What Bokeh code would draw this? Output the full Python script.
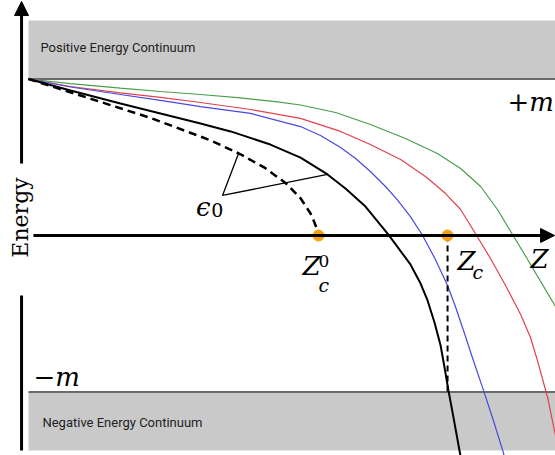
import numpy as np
from bokeh.plotting import figure
from bokeh.models import Range1d, Arrow, NormalHead
from bokeh.core.properties import value
from bokeh.embed import file_html
from bokeh.resources import INLINE

# Energy levels (units of m) versus nuclear charge Z (units of Z_c^0)
z_crit0 = 1.0      # critical charge, point nucleus
z_crit = 1.445     # critical charge, finite nucleus
continuum_edge = 1.0
continuum_depth = 1.374

# ground state of the point nucleus (dashed)
z_eps0 = [0.000, 0.214, 0.421, 0.628, 0.731, 0.817, 0.886, 0.938, 0.972, 0.983, 0.993, 0.997, 1.000]
e_eps0 = [1.000, 0.874, 0.751, 0.608, 0.519, 0.430, 0.336, 0.238, 0.142, 0.096, 0.050, 0.026, 0.000]

# ground state of the extended nucleus (black)
z_black = [0.000, 0.145, 0.317, 0.455, 0.593, 0.697, 0.834, 0.938, 1.031, 1.093, 1.162, 1.241,
           1.317, 1.352, 1.376, 1.400, 1.421, 1.434, 1.448, 1.466, 1.483, 1.490]
e_black = [1.000, 0.927, 0.843, 0.780, 0.716, 0.665, 0.581, 0.498, 0.390, 0.300, 0.185, 0.006,
           -0.185, -0.307, -0.415, -0.556, -0.703, -0.837, -0.990, -1.169, -1.342, -1.412]

# further levels
z_blue = [0.000, 0.145, 0.317, 0.455, 0.593, 0.766, 0.938, 1.007, 1.076, 1.128, 1.179, 1.231,
          1.272, 1.317, 1.359, 1.403, 1.445, 1.472, 1.500, 1.534, 1.569, 1.603, 1.634, 1.641]
e_blue = [1.000, 0.949, 0.901, 0.863, 0.824, 0.780, 0.696, 0.639, 0.562, 0.492, 0.409, 0.313,
          0.227, 0.121, 0.000, -0.153, -0.319, -0.454, -0.607, -0.799, -0.990, -1.182, -1.367, -1.412]

z_red = [0.000, 0.145, 0.317, 0.455, 0.593, 0.766, 0.938, 1.076, 1.179, 1.283, 1.369, 1.438,
         1.490, 1.541, 1.593, 1.645, 1.697, 1.731, 1.755, 1.790, 1.817, 1.838]
e_red = [1.000, 0.952, 0.911, 0.882, 0.850, 0.805, 0.748, 0.665, 0.581, 0.486, 0.377, 0.268,
         0.166, 0.013, -0.147, -0.319, -0.505, -0.652, -0.799, -1.035, -1.278, -1.470]

z_green = [0.000, 0.145, 0.317, 0.455, 0.593, 0.731, 0.852, 0.938, 1.059, 1.179, 1.300, 1.410,
           1.490, 1.559, 1.617, 1.669, 1.721, 1.817, 1.886]
e_green = [1.000, 0.971, 0.942, 0.920, 0.901, 0.879, 0.856, 0.834, 0.786, 0.709, 0.620, 0.524,
           0.428, 0.313, 0.166, 0.006, -0.153, -0.454, -0.671]

# pointer from the epsilon_0 label to both ground-state curves
eps_label = (0.669, 0.256)
eps_targets = [(0.724, 0.522), (1.031, 0.390)]

W, H = 555, 455
p = figure(width=W, height=H, output_backend="svg", toolbar_location=None,
           x_range=Range1d(-0.0966, 1.8172), y_range=Range1d(-1.4058, 1.5016),
           x_axis_location=None, y_axis_location=None, min_border=0)
p.grid.visible = False
p.outline_line_color = None
p.background_fill_color = "white"
p.border_fill_color = "white"

band = "#c9c9c9"
edge = "#6a6a6a"
# continua
p.quad(left=0.0, right=1.9, bottom=continuum_edge, top=continuum_depth,
       fill_color=band, line_color=None)
p.quad(left=0.0, right=1.9, bottom=-continuum_depth, top=-continuum_edge,
       fill_color=band, line_color=None)
p.line([0.0, 1.9], [continuum_edge, continuum_edge], line_color=edge, line_width=2)
p.line([0.0, 1.9], [-continuum_edge, -continuum_edge], line_color=edge, line_width=2)

sans = value("Roboto")
p.text(x=[0.041], y=[1.201], text=["Positive Energy Continuum"], text_font=sans,
       text_font_size="13px", text_color="#222222", text_baseline="middle", text_align="left")
p.text(x=[0.048], y=[-1.194], text=["Negative Energy Continuum"], text_font=sans,
       text_font_size="13px", text_color="#222222", text_baseline="middle", text_align="left")

# axes drawn as arrows
x_ax = -0.024
p.line([x_ax, x_ax], [-continuum_depth, -0.383], line_color="black", line_width=3)
p.add_layout(Arrow(end=NormalHead(size=14, fill_color="black", line_color="black"),
                   x_start=x_ax, y_start=0.46, x_end=x_ax, y_end=1.495,
                   line_color="black", line_width=3))
p.add_layout(Arrow(end=NormalHead(size=14, fill_color="black", line_color="black"),
                   x_start=0.017, y_start=0.0, x_end=1.814, y_end=0.0,
                   line_color="black", line_width=3))

# energy levels
p.line(z_green, e_green, line_color="#4a9e4a", line_width=1.2)
p.line(z_red, e_red, line_color="#e0424c", line_width=1.2)
p.line(z_blue, e_blue, line_color="#4848e0", line_width=1.2)
p.line(z_black, e_black, line_color="black", line_width=2)
p.line(z_eps0, e_eps0, line_color="black", line_width=2.5, line_dash="8 5")

# critical charge marker
p.line([z_crit, z_crit], [0.0, -continuum_edge], line_color="black", line_width=2, line_dash="6 4")
p.scatter([z_crit0, z_crit], [0.0, 0.0], size=11, fill_color="#f5a312", line_color="#f5a312")

# epsilon_0 pointers
for tx, ty in eps_targets:
    p.line([eps_label[0], tx], [eps_label[1], ty], line_color="black", line_width=1.3)

serif = value("DejaVu Serif")
def label(x, y, s, size, style="italic", align="left"):
    p.text(x=[x], y=[y], text=[s], text_font=serif, text_font_style=style,
           text_font_size=size, text_color="black", text_baseline="middle",
           text_align=align)

label(0.628, 0.179, "\u03f5", "26px", align="right")
label(0.630, 0.160, "0", "19px", style="normal")

label(0.945, -0.198, "Z", "26px")
label(1.0, -0.160, "0", "17px", style="normal")
label(1.0, -0.319, "c", "19px")

label(1.479, -0.166, "Z", "26px")
label(1.531, -0.236, "c", "19px")

label(1.731, -0.153, "Z", "26px")

label(1.812, 0.856, "+m", "26px", align="right")
label(0.017, -0.901, "\u2212m", "26px")

p.text(x=[-0.0276], y=[0.115], text=["Energy"], angle=np.pi / 2, text_font=serif,
       text_font_size="22px", text_color="black", text_baseline="middle", text_align="center")

open("out.html", "w").write(file_html(p, INLINE))
